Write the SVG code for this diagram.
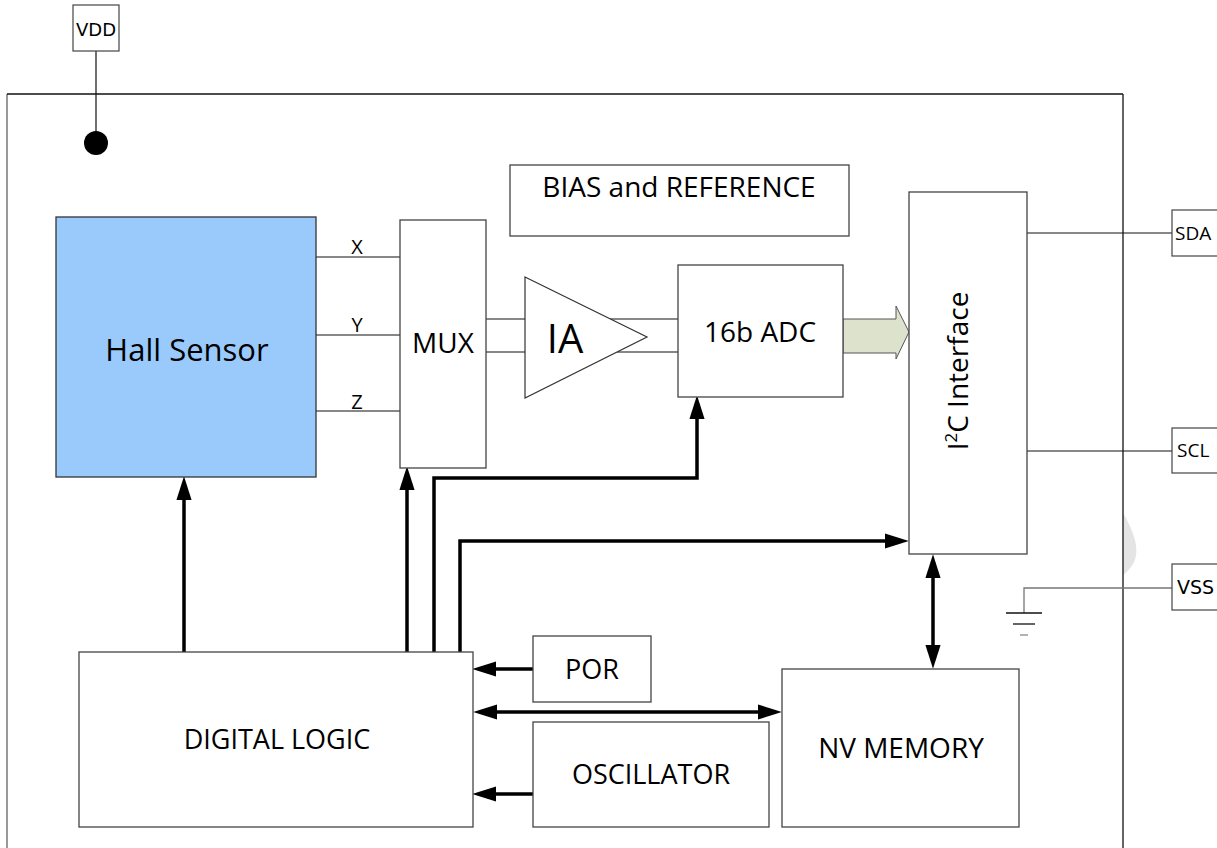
<svg xmlns="http://www.w3.org/2000/svg" width="1217" height="848" viewBox="0 0 1217 848">
<style>
.box{fill:#fff;stroke:#444;stroke-width:1.3}
.pin{fill:#fff;stroke:#444;stroke-width:1.2}
.t{font-family:"Open Sans","Liberation Sans",sans-serif;fill:#000}
.d{font-family:"DejaVu Sans","Liberation Sans",sans-serif;fill:#000}
.thin{fill:none;stroke:#111;stroke-width:1.2}
.bus{fill:none;stroke:#000;stroke-width:3.5}
</style>
<defs>
<marker id="ah" markerUnits="userSpaceOnUse" markerWidth="24" markerHeight="16" viewBox="0 0 22 14" refX="2" refY="7" orient="auto-start-reverse">
<path d="M0,0 L22,7 L0,14 z" fill="#000"/>
</marker>
</defs>
<rect width="1217" height="848" fill="#fff"/>
<!-- watermark fragment -->
<path d="M1123,513 Q1142,545 1134,562 Q1130,570 1123,575 Z" fill="#e4e4e4"/>
<!-- chip frame -->
<g id="frame">
<line x1="7" y1="94" x2="7" y2="848" stroke="#777" stroke-width="1.5"/>
<line x1="7" y1="94" x2="1123" y2="94" stroke="#111" stroke-width="1.3"/>
<line x1="1123" y1="94" x2="1123" y2="848" stroke="#111" stroke-width="1.3"/>
</g>
<g id="connectors">
<line class="thin" x1="96" y1="51" x2="96" y2="143"/>
<line class="thin" x1="316" y1="257" x2="400" y2="257"/>
<line class="thin" x1="316" y1="335" x2="400" y2="335"/>
<line class="thin" x1="316" y1="411" x2="400" y2="411" stroke="#555"/>
<line class="thin" x1="486" y1="319" x2="525" y2="319"/>
<line class="thin" x1="486" y1="352" x2="525" y2="352"/>
<line class="thin" x1="610" y1="319" x2="678" y2="319"/>
<line class="thin" x1="617" y1="352" x2="678" y2="352"/>
<line class="thin" x1="1024" y1="233" x2="1172" y2="233"/>
<line class="thin" x1="1024" y1="451" x2="1172" y2="451" stroke="#555"/>
<path d="M1172,588 H1024 V613" fill="none" stroke="#777" stroke-width="1.3"/>
<line x1="1006" y1="613" x2="1042" y2="613" stroke="#111" stroke-width="1.3"/>
<line x1="1013" y1="624" x2="1035" y2="624" stroke="#111" stroke-width="1.3"/>
<line x1="1020" y1="635" x2="1028" y2="635" stroke="#888" stroke-width="1.3"/>
<line class="bus" x1="184" y1="652" x2="184" y2="498" marker-end="url(#ah)"/>
<line class="bus" x1="407" y1="652" x2="407" y2="488" marker-end="url(#ah)"/>
<path class="bus" d="M434,652 V478 H697 V417" marker-end="url(#ah)"/>
<path class="bus" d="M460,652 V541 H887" marker-end="url(#ah)"/>
<line class="bus" x1="533" y1="669" x2="494" y2="669" marker-end="url(#ah)"/>
<line class="bus" x1="495" y1="712" x2="760" y2="712" marker-start="url(#ah)" marker-end="url(#ah)"/>
<line class="bus" x1="533" y1="794" x2="494" y2="794" marker-end="url(#ah)"/>
<line class="bus" x1="933" y1="576" x2="933" y2="647" marker-start="url(#ah)" marker-end="url(#ah)"/>
<polygon points="843,319 896,319 896,306 909,332 896,359 896,353 843,353" fill="#dde2cc" stroke="#555" stroke-width="1"/>
</g>
<g id="vdd">
<rect class="pin" x="73" y="5" width="46" height="46"/>
<text class="d" x="96" y="36" font-size="18" text-anchor="middle">VDD</text>
<circle cx="96" cy="143" r="12" fill="#000"/>
</g>
<g id="hall">
<rect x="56" y="217" width="260" height="260" fill="#99cafb" stroke="#333" stroke-width="1.3"/>
<text class="t" x="187" y="361" font-size="31" text-anchor="middle">Hall Sensor</text>
</g>
<g id="labels-xyz">
<text class="t" x="357" y="254" font-size="20" text-anchor="middle">X</text>
<text class="t" x="357" y="332" font-size="20" text-anchor="middle">Y</text>
<text class="t" x="357" y="409" font-size="20" text-anchor="middle">Z</text>
</g>
<g id="mux">
<rect class="box" x="400" y="220" width="86" height="248"/>
<text class="t" x="443" y="353" font-size="28" text-anchor="middle">MUX</text>
</g>
<g id="ia">
<polygon points="525,277 647,337 525,398" fill="#fff" stroke="#333" stroke-width="1.2"/>
<text class="t" x="565" y="353" font-size="40" text-anchor="middle">IA</text>
</g>
<g id="adc">
<rect class="box" x="678" y="265" width="165" height="132"/>
<text class="t" x="760" y="342" font-size="28" text-anchor="middle">16b ADC</text>
</g>
<g id="bias">
<rect class="box" x="510" y="165" width="339" height="71"/>
<text class="t" x="679" y="197" font-size="28" text-anchor="middle">BIAS and REFERENCE</text>
</g>
<g id="i2c">
<rect class="box" x="909" y="192" width="118" height="362"/>
<text class="t" transform="translate(968,371) rotate(-90)" font-size="28" text-anchor="middle">I<tspan font-size="17" dy="-11">2</tspan><tspan dy="11">C Interface</tspan></text>
</g>
<g id="sda">
<rect class="pin" x="1172" y="210" width="50" height="46"/>
<text class="t" x="1175" y="240" font-size="19">SDA</text>
</g>
<g id="scl">
<rect class="pin" x="1172" y="428" width="50" height="45"/>
<text class="t" x="1177" y="457" font-size="19">SCL</text>
</g>
<g id="vss">
<rect class="pin" x="1172" y="564" width="50" height="46"/>
<text class="d" x="1177" y="594" font-size="19">VSS</text>
</g>
<g id="digital">
<rect class="box" x="79" y="652" width="394" height="175"/>
<text class="t" x="277" y="749" font-size="27" text-anchor="middle">DIGITAL LOGIC</text>
</g>
<g id="por">
<rect class="box" x="533" y="636" width="118" height="66"/>
<text class="t" x="592" y="679" font-size="27" text-anchor="middle">POR</text>
</g>
<g id="osc">
<rect class="box" x="533" y="722" width="236" height="105"/>
<text class="t" x="651" y="784" font-size="27" text-anchor="middle">OSCILLATOR</text>
</g>
<g id="nvm">
<rect class="box" x="782" y="669" width="237" height="158"/>
<text class="t" x="901" y="758" font-size="28" text-anchor="middle">NV MEMORY</text>
</g>
</svg>
